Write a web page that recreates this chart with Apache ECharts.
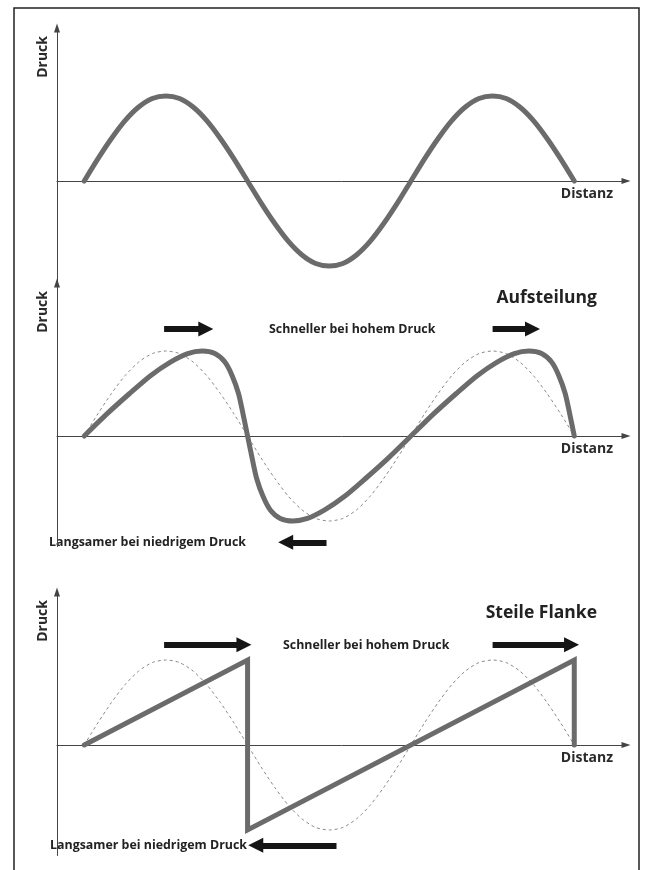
<!DOCTYPE html>
<html>
<head>
<meta charset="utf-8">
<script src="https://cdn.jsdelivr.net/npm/echarts@6.0.0/dist/echarts.min.js"></script>
<style>
  html, body { margin: 0; padding: 0; background: #ffffff; }
  #chart { width: 648px; height: 870px; }
</style>
</head>
<body>
<div id="chart"></div>
<script>
// ---- data (x in degrees of phase, y in pressure units) ----
const sineX = [0,15,30,45,60,75,90,105,120,135,150,165,180,195,210,225,240,255,270,285,300,315,330,345,360,375,390,405,420,435,450,465,480,495,510,525,540];
const sineY = [0,0.26,0.5,0.71,0.87,0.97,1,0.97,0.87,0.71,0.5,0.26,0,-0.26,-0.5,-0.71,-0.87,-0.97,-1,-0.97,-0.87,-0.71,-0.5,-0.26,0,0.26,0.5,0.71,0.87,0.97,1,0.97,0.87,0.71,0.5,0.26,0];

const steepX = [0,25,50,73,95,114,130,144,155,163,170,175,180,185,190,197,205,216,230,246,265,287,310,335,360,385,410,433,455,474,490,504,515,523,530,535,540];
const steepY = [0,0.26,0.5,0.71,0.87,0.97,1,0.97,0.87,0.71,0.5,0.26,0,-0.26,-0.5,-0.71,-0.87,-0.97,-1,-0.97,-0.87,-0.71,-0.5,-0.26,0,0.26,0.5,0.71,0.87,0.97,1,0.97,0.87,0.71,0.5,0.26,0];

const sawX = [0,180,180,540,540];
const sawY = [0,1,-1,1,0];

// arrows: [xStart, xEnd, y]
const arrows2 = [[88,134,1.26],[450,494,1.26],[267,222,-1.25]];
const arrows3 = [[88,176,1.18],[450,537,1.18],[278,189,-1.18]];

const yName = 'Druck';
const xName = 'Distanz';
const title2 = 'Aufsteilung';
const title3 = 'Steile Flanke';
const fastText = 'Schneller bei hohem Druck';
const slowText = 'Langsamer bei niedrigem Druck';

// ---- build ----
const FONT = 'Open Sans';
const zip = (xs, ys) => xs.map((x, i) => [x, ys[i]]);
const gridTops = [28, 283, 592];

const grids = gridTops.map(t => ({ left: 57, right: 22, top: t, height: 263.5, containLabel: false }));

const xAxes = gridTops.map((t, i) => ({
  type: 'value', gridIndex: i, min: -30, max: 597,
  axisLine: { onZero: true, lineStyle: { color: '#444', width: 1 }, symbol: ['none', 'triangle'], symbolSize: [6, 9] },
  axisTick: { show: false }, axisLabel: { show: false }, splitLine: { show: false },
  name: xName, nameLocation: 'end', nameGap: -13,
  nameTextStyle: { align: 'right', verticalAlign: 'top', padding: [6, 0, 0, 0], fontSize: 14, fontWeight: 'bold', color: '#2a2a2a', fontFamily: FONT }
}));

const yAxes = gridTops.map((t, i) => ({
  type: 'value', gridIndex: i, min: -1.3, max: 1.8,
  axisLine: { show: true, onZero: false, lineStyle: { color: '#444', width: 1 }, symbol: ['none', 'triangle'], symbolSize: [6, 9] },
  axisTick: { show: false }, axisLabel: { show: false }, splitLine: { show: false },
  name: yName, nameLocation: 'end', nameRotate: 90, nameGap: -8,
  nameTextStyle: { align: 'right', verticalAlign: 'bottom', padding: [0, 0, 7, 0], fontSize: 14, fontWeight: 'bold', color: '#2a2a2a', fontFamily: FONT }
}));

const thick = { color: '#6b6b6b', width: 5, cap: 'round', join: 'miter' };
const dashed = { color: '#8a8a8a', width: 1, type: [3, 3] };

function arrowMarks(list) {
  return {
    silent: true, animation: false,
    symbol: ['none', 'triangle'], symbolSize: [15, 15],
    lineStyle: { color: '#151515', width: 6, type: 'solid' },
    label: { show: false },
    emphasis: { disabled: true },
    data: list.map(a => [{ coord: [a[0], a[2]] }, { coord: [a[1], a[2]] }])
  };
}

const series = [
  { type: 'line', xAxisIndex: 0, yAxisIndex: 0, data: zip(sineX, sineY), smooth: 0.25, showSymbol: false, lineStyle: thick, clip: false },
  { type: 'line', xAxisIndex: 1, yAxisIndex: 1, data: zip(sineX, sineY), smooth: 0.25, showSymbol: false, lineStyle: dashed, clip: false },
  { type: 'line', xAxisIndex: 1, yAxisIndex: 1, data: zip(steepX, steepY), smooth: 0.25, showSymbol: false, lineStyle: thick, clip: false, markLine: arrowMarks(arrows2) },
  { type: 'line', xAxisIndex: 2, yAxisIndex: 2, data: zip(sineX, sineY), smooth: 0.25, showSymbol: false, lineStyle: dashed, clip: false },
  { type: 'line', xAxisIndex: 2, yAxisIndex: 2, data: zip(sawX, sawY), smooth: false, showSymbol: false, lineStyle: thick, clip: false, markLine: arrowMarks(arrows3) }
];

const textStyleBase = { fill: '#222', fontFamily: FONT, fontWeight: 'bold' };
const graphic = [
  { type: 'rect', shape: { x: 14, y: 8, width: 625, height: 900 }, style: { fill: 'none', stroke: '#222', lineWidth: 1.5 }, silent: true, z: -1 },
  { type: 'text', x: 597, y: 298, style: Object.assign({ text: title2, fontSize: 17.5, align: 'right', verticalAlign: 'middle' }, textStyleBase) },
  { type: 'text', x: 597, y: 613, style: Object.assign({ text: title3, fontSize: 17.5, align: 'right', verticalAlign: 'middle' }, textStyleBase) },
  { type: 'text', x: 269, y: 329, style: Object.assign({ text: fastText, fontSize: 12.4, align: 'left', verticalAlign: 'middle' }, textStyleBase) },
  { type: 'text', x: 283, y: 645, style: Object.assign({ text: fastText, fontSize: 12.4, align: 'left', verticalAlign: 'middle' }, textStyleBase) },
  { type: 'text', x: 49, y: 542, style: Object.assign({ text: slowText, fontSize: 12.4, align: 'left', verticalAlign: 'middle' }, textStyleBase) },
  { type: 'text', x: 50, y: 845, style: Object.assign({ text: slowText, fontSize: 12.4, align: 'left', verticalAlign: 'middle' }, textStyleBase) }
];

const chart = echarts.init(document.getElementById('chart'), null, { renderer: 'canvas' });
chart.setOption({
  animation: false,
  backgroundColor: '#ffffff',
  grid: grids,
  xAxis: xAxes,
  yAxis: yAxes,
  series: series,
  graphic: graphic
});
</script>
</body>
</html>
